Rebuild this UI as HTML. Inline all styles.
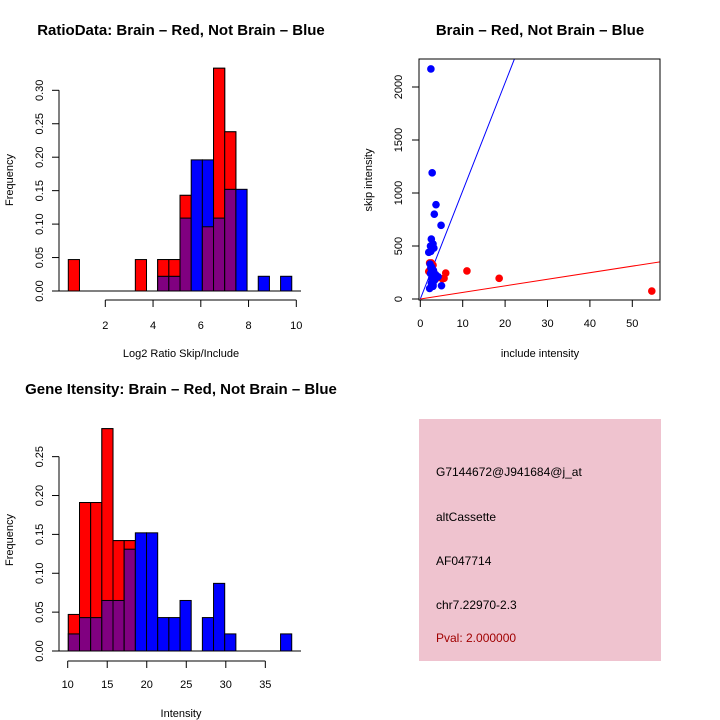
<!DOCTYPE html>
<html><head><meta charset="utf-8"><style>
body{margin:0;background:#fff}
svg{display:block;font-family:"Liberation Sans",sans-serif}
</style></head><body>
<svg id="s" width="720" height="720" viewBox="0 0 720 720">
<text x="181" y="35" text-anchor="middle" font-size="15" font-weight="bold">RatioData: Brain – Red, Not Brain – Blue</text>
<text x="540" y="35" text-anchor="middle" font-size="15" font-weight="bold">Brain – Red, Not Brain – Blue</text>
<text x="181" y="394" text-anchor="middle" font-size="15" font-weight="bold">Gene Itensity: Brain – Red, Not Brain – Blue</text>
<text x="181" y="357" text-anchor="middle" font-size="11">Log2 Ratio Skip/Include</text>
<text x="181" y="717" text-anchor="middle" font-size="11">Intensity</text>
<text x="13" y="180" transform="rotate(-90 13 180)" text-anchor="middle" font-size="11">Frequency</text>
<text x="13" y="540" transform="rotate(-90 13 540)" text-anchor="middle" font-size="11">Frequency</text>
<text x="540" y="357" text-anchor="middle" font-size="11">include intensity</text>
<text x="372" y="180" transform="rotate(-90 372 180)" text-anchor="middle" font-size="11">skip intensity</text>
<g>
<rect x="419" y="419" width="242" height="242" fill="#efc3cf"/>
<text x="436" y="476" font-size="12">G7144672@J941684@j_at</text>
<text x="436" y="521" font-size="12">altCassette</text>
<text x="436" y="565" font-size="12">AF047714</text>
<text x="436" y="609" font-size="12">chr7.22970-2.3</text>
<text x="436" y="642" font-size="12" fill="#a00000">Pval: 2.000000</text>
</g>
<g id="g1"></g><g id="g2"></g><g id="g3"></g>
</svg>
<script>
// Ratio histogram
const ratioRed=[0.047,0,0,0,0,0,0.047,0,0.047,0.047,0.143,0,0.096,0.333,0.238,0,0,0,0,0];
const ratioBlue=[0,0,0,0,0,0,0,0,0.022,0.022,0.109,0.196,0.196,0.109,0.152,0.152,0,0.022,0,0.022];
const ratioXTicks=[2,4,6,8,10];
const ratioYTicks=["0.00","0.05","0.10","0.15","0.20","0.25","0.30"];
// Intensity histogram
const intRed=[0.047,0.191,0.191,0.286,0.142,0.142,0,0,0,0,0,0,0,0,0,0,0,0,0,0];
const intBlue=[0.022,0.043,0.043,0.065,0.065,0.131,0.152,0.152,0.043,0.043,0.065,0,0.043,0.087,0.022,0,0,0,0,0.022];
const intXTicks=[10,15,20,25,30,35];
const intYTicks=["0.00","0.05","0.10","0.15","0.20","0.25"];
// Scatter
const brainX=[2.2,2.6,3.0,11.0,18.6,54.6,6.0,5.6,4.0,2.0,3.5,2.4,2.8,5.2,3.2];
const brainY=[340,340,320,265,195,75,245,195,200,260,230,280,300,190,250];
const notX=[2.5,2.8,3.7,3.3,4.9,2.6,2.4,3.0,2.0,3.2,2.5,5.0,2.3,2.7,3.1,2.4,2.9,3.4,2.6,3.0,2.2,4.2,2.8,3.6,2.5,3.0,2.7];
const notY=[2170,1190,890,800,695,565,500,520,440,480,450,125,330,300,270,240,210,180,150,120,100,210,160,230,290,140,190];
const scXTicks=[0,10,20,30,40,50];
const scYTicks=[0,500,1000,1500,2000];
const blueSlope=102, redSlope=6.2;

const NS="http://www.w3.org/2000/svg";
function mk(p,t,a){const e=document.createElementNS(NS,t);for(const k in a)e.setAttribute(k,a[k]);p.appendChild(e);return e;}

function hist(g,red,blue,x0,bw,xs,ys,xTicks,yTicks,yStep,axisY,lblY,name){
  const base=ys(0);
  red.forEach((v,i)=>{if(v>0){const x=xs(x0+i*bw);const r=mk(g,'rect',{x:x,y:ys(v),width:xs(x0+(i+1)*bw)-x,height:base-ys(v),fill:'#ff0000',stroke:'#000'});
    
    }});
  blue.forEach((v,i)=>{if(v>0){const x=xs(x0+i*bw);const w=xs(x0+(i+1)*bw)-x;const ov=Math.min(v,red[i]);
    const r=mk(g,'rect',{x:x,y:ys(v),width:w,height:base-ys(v),fill:'#0000ff',stroke:'#000'});
    
    
    if(ov>0){const p=mk(g,'rect',{x:x,y:ys(ov),width:w,height:base-ys(ov),fill:'#800080',stroke:'#000'});
      
      }
    if(red[i]>v){const q=mk(g,'rect',{x:x,y:ys(red[i]),width:w,height:ys(v)-ys(red[i]),fill:'#ff0000',stroke:'#000'});
      
      }}});
  mk(g,'line',{x1:52,y1:base,x2:301,y2:base,stroke:'#000'});
  mk(g,'line',{x1:xs(xTicks[0]),y1:axisY,x2:xs(xTicks[xTicks.length-1]),y2:axisY,stroke:'#000'});
  xTicks.forEach(t=>{mk(g,'line',{x1:xs(t),y1:axisY,x2:xs(t),y2:axisY+7,stroke:'#000'});
    const tx=mk(g,'text',{x:xs(t),y:lblY,'text-anchor':'middle','font-size':11});tx.textContent=t;
    
    });
  const yt=yTicks.map((s,i)=>i*yStep);
  mk(g,'line',{x1:59,y1:ys(0),x2:59,y2:ys(yt[yt.length-1]),stroke:'#000'});
  yTicks.forEach((s,i)=>{const y=ys(yt[i]);mk(g,'line',{x1:52,y1:y,x2:59,y2:y,stroke:'#000'});
    const tx=mk(g,'text',{x:43,y:y,'text-anchor':'middle','font-size':11,transform:`rotate(-90 43 ${y})`});tx.textContent=s;
    
    });
}
const g1=document.getElementById('g1');


hist(g1,ratioRed,ratioBlue,0.45,0.468,v=>105.3+(v-2)*23.875,v=>291-v*669,ratioXTicks,ratioYTicks,0.05,300,329,'ratio');
const g3=document.getElementById('g3');


hist(g3,intRed,intBlue,10.08,1.413,v=>67.7+(v-10)*7.905,v=>651-v*777.4,intXTicks,intYTicks,0.05,661,688,'intensity');

const g2=document.getElementById('g2');


const sx=v=>420.3+v*4.24, sy=v=>299-v*0.106;
const cp=mk(g2,'clipPath',{id:'cp'});mk(cp,'rect',{x:419,y:59,width:241,height:241});
const lg=mk(g2,'g',{'clip-path':'url(#cp)'});
let l=mk(lg,'line',{x1:sx(0),y1:sy(0),x2:sx(60),y2:sy(60*blueSlope),stroke:'#0000ff'});


l=mk(lg,'line',{x1:sx(0),y1:sy(0),x2:sx(60),y2:sy(60*redSlope),stroke:'#ff0000'});


brainX.forEach((x,i)=>{const c=mk(g2,'circle',{cx:sx(x),cy:sy(brainY[i]),r:3.8,fill:'#ff0000'});
  
  });
notX.forEach((x,i)=>{const c=mk(g2,'circle',{cx:sx(x),cy:sy(notY[i]),r:3.8,fill:'#0000ff'});
  
  });
mk(g2,'rect',{x:419,y:59,width:241,height:241,fill:'none',stroke:'#000'});
scXTicks.forEach(t=>{mk(g2,'line',{x1:sx(t),y1:300,x2:sx(t),y2:307,stroke:'#000'});
  const tx=mk(g2,'text',{x:sx(t),y:327,'text-anchor':'middle','font-size':11});tx.textContent=t;
  
  });
scYTicks.forEach(t=>{const y=sy(t);mk(g2,'line',{x1:412,y1:y,x2:419,y2:y,stroke:'#000'});
  const tx=mk(g2,'text',{x:402,y:y,'text-anchor':'middle','font-size':11,transform:`rotate(-90 402 ${y})`});tx.textContent=t;
  
  });
</script>
</body></html>
